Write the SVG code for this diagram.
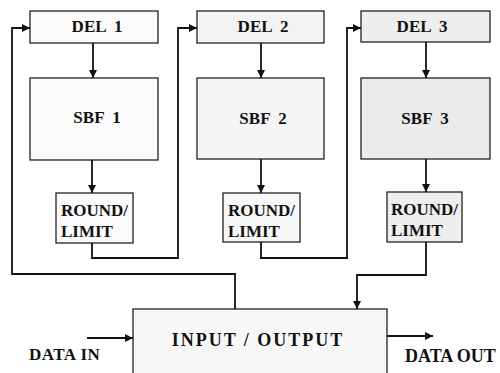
<svg xmlns="http://www.w3.org/2000/svg" width="500" height="373" viewBox="0 0 500 373">
<style>
.box{stroke:#222;stroke-width:1.3}
.t{font-family:"Liberation Serif","Times New Roman",serif;font-weight:bold;fill:#111}
.c{fill:none;stroke:#111;stroke-width:1.8}
</style>
<defs>
<marker id="ah" markerUnits="userSpaceOnUse" markerWidth="10" markerHeight="10" refX="8" refY="4" orient="auto">
<path d="M0,0 L8,4 L0,8 Z" fill="#111"/>
</marker>
</defs>
<rect width="500" height="373" fill="#fff"/>
<g id="del1"><rect class="box" x="30" y="11" width="128" height="32" fill="#fbfbfb"/><text class="t" x="97" y="32" font-size="17" text-anchor="middle" word-spacing="4">DEL 1</text></g>
<g id="sbf1"><rect class="box" x="30" y="78" width="128" height="82" fill="#fbfbfb"/><text class="t" x="97" y="123" font-size="17" text-anchor="middle" word-spacing="4">SBF 1</text></g>
<g id="round1"><rect class="box" x="56" y="193" width="77" height="50" fill="#fbfbfb"/><text class="t" x="61" y="216" font-size="17">ROUND/</text><text class="t" x="61" y="237" font-size="17">LIMIT</text></g>
<g id="del2"><rect class="box" x="197" y="11" width="127" height="32" fill="#f3f3f3"/><text class="t" x="263" y="32" font-size="17" text-anchor="middle" word-spacing="4">DEL 2</text></g>
<g id="sbf2"><rect class="box" x="197" y="78" width="127" height="81" fill="#f5f5f5"/><text class="t" x="263" y="124" font-size="17" text-anchor="middle" word-spacing="4">SBF 2</text></g>
<g id="round2"><rect class="box" x="223" y="193" width="77" height="49" fill="#f7f7f7"/><text class="t" x="228" y="216" font-size="17">ROUND/</text><text class="t" x="228" y="237" font-size="17">LIMIT</text></g>
<g id="del3"><rect class="box" x="361" y="11" width="129" height="31" fill="#eeeeee"/><text class="t" x="422" y="32" font-size="17" text-anchor="middle" word-spacing="4">DEL 3</text></g>
<g id="sbf3"><rect class="box" x="361" y="78" width="129" height="81" fill="#ebebeb"/><text class="t" x="425" y="124" font-size="17" text-anchor="middle" word-spacing="4">SBF 3</text></g>
<g id="round3"><rect class="box" x="387" y="192" width="75" height="50" fill="#eeeeee"/><text class="t" x="391" y="215" font-size="17">ROUND/</text><text class="t" x="391" y="236" font-size="17">LIMIT</text></g>
<g id="io"><rect class="box" x="133" y="309" width="254" height="70" fill="#f7f7f7"/><text class="t" x="258" y="346" font-size="18" text-anchor="middle" letter-spacing="2">INPUT / OUTPUT</text></g>
<g id="datain"><text class="t" x="29" y="360" font-size="17" letter-spacing="0.5">DATA IN</text></g>
<g id="dataout"><text class="t" x="405" y="362" font-size="18">DATA OUT</text></g>
<g id="connectors">
<path class="c" d="M93,43 V78" marker-end="url(#ah)"/>
<path class="c" d="M92,160 V193" marker-end="url(#ah)"/>
<path class="c" d="M261,43 V78" marker-end="url(#ah)"/>
<path class="c" d="M261,159 V193" marker-end="url(#ah)"/>
<path class="c" d="M426,42 V78" marker-end="url(#ah)"/>
<path class="c" d="M426,159 V192" marker-end="url(#ah)"/>
<path class="c" d="M235,309 V274 H12 V28 H30" marker-end="url(#ah)"/>
<path class="c" d="M92,243 V258 H178 V28 H197" marker-end="url(#ah)"/>
<path class="c" d="M261,242 V258 H347 V28 H361" marker-end="url(#ah)"/>
<path class="c" d="M426,242 V275 H357 V309" marker-end="url(#ah)"/>
<path class="c" d="M87,338 H133" marker-end="url(#ah)"/>
<path class="c" d="M387,336 H433" marker-end="url(#ah)"/>
</g>
</svg>
